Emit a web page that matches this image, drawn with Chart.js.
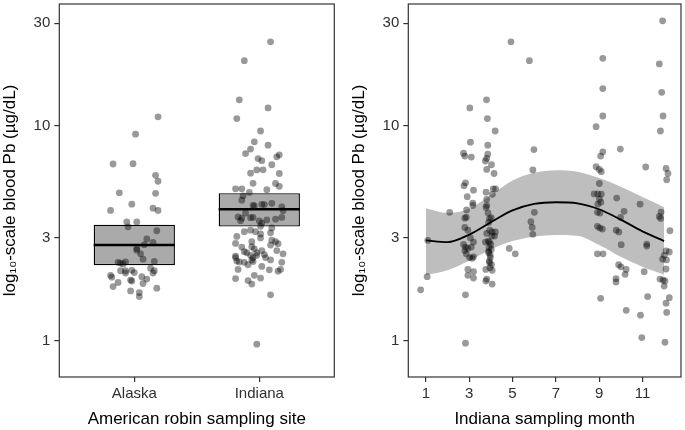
<!DOCTYPE html>
<html><head><meta charset="utf-8">
<script src="https://cdn.jsdelivr.net/npm/chart.js@4"></script>
<style>
html,body{margin:0;padding:0;background:#fff;}
#wrap{position:relative;width:685px;height:430px;overflow:hidden;}
#c1{position:absolute;left:0;top:0;width:340px;height:430px;}
#c2{position:absolute;left:349px;top:0;width:336px;height:430px;}
</style></head><body>
<div id="wrap"><canvas id="c1" width="340" height="430"></canvas><canvas id="c2" width="336" height="430"></canvas></div>
<script>
// ---------- data ----------
const sites = ['Alaska', 'Indiana'];
const yTicks = [1, 3, 10, 30];
const monthTicks = [1, 3, 5, 7, 9, 11];

const alaskaPb = [11.0, 9.13, 6.63, 6.65, 5.87, 5.51, 4.87, 4.84, 4.31, 4.13, 4.03, 4.03, 3.56, 3.56, 3.38, 3.24, 2.97, 2.86, 2.79, 2.68, 2.63, 2.53, 2.39, 2.33, 2.31, 2.29, 2.32, 2.27, 2.11, 2.11, 2.06, 2.12, 2.07, 2.17, 2.11, 2.06, 2.01, 1.97, 1.91, 1.89, 1.98, 1.93, 1.84, 1.86, 1.78, 1.75, 1.70, 1.67, 1.60];
const alaskaJitter = [0.19, 0.01, -0.17, -0.01, 0.17, 0.19, -0.12, 0.17, -0.02, 0.15, 0.19, -0.19, -0.06, 0.02, -0.05, 0.18, 0.10, 0.15, 0.08, 0.02, 0.02, 0.05, 0.07, 0.16, -0.13, -0.11, -0.07, -0.09, -0.11, -0.07, -0.07, -0.02, 0.00, 0.13, 0.16, 0.15, -0.19, -0.18, -0.03, -0.02, 0.06, 0.10, 0.07, -0.13, -0.17, 0.18, -0.03, 0.04, 0.04];

const indianaPb = [24.6, 20.1, 13.2, 12.1, 10.8, 9.45, 8.41, 8.12, 7.78, 7.42, 7.32, 7.16, 7.03, 6.87, 6.58, 6.01, 6.22, 6.23, 5.99, 5.39, 5.38, 5.22, 5.08, 5.08, 5.03, 4.89, 4.71, 4.50, 4.25, 4.23, 4.30, 4.29, 4.35, 4.19, 4.02, 3.92, 3.76, 3.71, 3.61, 3.73, 3.74, 3.60, 3.52, 3.64, 3.67, 3.74, 3.40, 3.34, 3.21, 3.26, 3.21, 3.13, 3.00, 3.17, 3.05, 2.88, 2.93, 2.88, 2.82, 2.83, 2.72, 2.73, 2.67, 2.62, 2.56, 2.78, 2.62, 2.53, 2.59, 2.56, 2.47, 2.43, 2.34, 2.49, 2.43, 2.37, 2.49, 2.51, 2.43, 2.37, 2.31, 2.32, 2.31, 2.25, 2.33, 2.21, 2.14, 2.13, 2.14, 2.10, 2.01, 1.95, 1.94, 1.90, 1.83, 1.63, 0.96];
const indianaJitter = [0.09, -0.12, -0.16, 0.07, -0.18, 0.01, -0.04, 0.07, -0.07, -0.11, 0.16, 0.14, -0.01, 0.02, 0.10, -0.07, -0.02, 0.03, 0.16, -0.05, 0.13, 0.16, -0.19, -0.14, 0.06, -0.08, -0.13, -0.14, -0.05, -0.04, 0.02, 0.04, 0.10, 0.18, 0.19, -0.11, -0.17, -0.14, -0.15, -0.07, -0.05, 0.00, 0.02, 0.06, 0.13, 0.18, 0.01, 0.10, -0.12, -0.07, -0.03, 0.01, 0.01, 0.09, -0.18, -0.06, 0.10, 0.13, 0.15, -0.19, -0.14, -0.06, -0.04, 0.02, -0.02, 0.09, 0.14, 0.19, -0.12, -0.10, -0.19, -0.19, -0.18, -0.07, -0.05, -0.06, -0.02, 0.04, 0.05, 0.09, 0.18, -0.16, -0.12, -0.09, -0.05, 0.02, -0.17, 0.08, 0.17, 0.15, -0.04, 0.01, -0.19, -0.09, -0.06, 0.09, -0.02];

const siteMean = [2.78, 4.08];
const siteLow = [2.24, 3.39];
const siteHigh = [3.46, 4.85];

const sampleMonth = [11.93, 4.93, 5.78, 9.17, 11.78, 9.17, 11.89, 3.80, 3.03, 3.84, 9.17, 11.95, 8.86, 4.20, 11.83, 3.06, 3.86, 5.99, 9.98, 2.74, 2.80, 3.10, 3.86, 3.81, 9.17, 9.07, 3.75, 4.03, 3.81, 4.15, 5.94, 8.86, 9.01, 9.10, 11.15, 12.09, 12.18, 12.12, 2.83, 2.76, 3.20, 2.91, 4.22, 4.11, 3.78, 4.07, 3.81, 9.01, 8.77, 8.94, 9.10, 9.01, 9.08, 8.94, 9.81, 10.89, 3.17, 3.17, 2.88, 2.10, 3.81, 3.78, 6.01, 3.87, 8.92, 9.04, 10.15, 9.99, 11.86, 11.78, 2.87, 2.80, 3.94, 4.02, 5.85, 3.90, 5.91, 5.94, 2.80, 2.94, 3.06, 3.81, 4.06, 4.21, 4.17, 8.92, 9.03, 9.15, 9.79, 9.91, 1.09, 2.74, 2.83, 2.94, 3.10, 3.20, 3.02, 3.14, 2.87, 2.80, 3.20, 3.75, 3.94, 4.85, 5.13, 8.92, 9.18, 10.02, 11.20, 11.20, 11.84, 12.27, 12.09, 12.24, 12.01, 11.93, 12.11, 12.09, 11.81, 11.95, 12.04, 12.00, 12.24, 12.09, 12.12, 11.08, 11.24, 10.25, 10.91, 10.97, 12.04, 9.90, 10.01, 10.25, 10.20, 9.78, 9.78, 9.07, 0.76, 1.06, 2.83, 2.83, 2.94, 3.20, 2.94, 3.20, 3.77, 3.81, 3.77, 4.06, 3.94, 3.95, 4.05, 3.88, 4.00, 3.92, 4.02, 3.90, 3.98, 3.93, 4.03, 3.96, 4.06, 3.90, 3.97];
const monthPb = [30.8, 24.6, 20.1, 20.6, 19.4, 14.9, 14.3, 13.2, 12.1, 10.8, 11.1, 11.1, 9.9, 9.45, 9.45, 8.38, 8.12, 7.74, 7.78, 7.45, 7.22, 7.14, 7.37, 7.04, 7.56, 7.22, 6.85, 6.58, 6.26, 5.99, 6.22, 6.44, 6.26, 6.11, 6.42, 6.32, 5.99, 5.60, 5.42, 5.25, 5.01, 4.67, 5.08, 5.08, 4.90, 4.79, 4.54, 5.38, 4.81, 4.81, 4.80, 4.56, 4.40, 4.31, 4.60, 4.31, 4.36, 4.25, 4.05, 3.95, 4.25, 4.16, 3.95, 3.92, 3.95, 3.92, 3.99, 3.74, 3.96, 3.78, 3.75, 3.71, 3.69, 3.73, 3.57, 3.54, 3.36, 3.12, 3.36, 3.26, 3.00, 3.15, 3.20, 3.20, 3.06, 3.40, 3.34, 3.30, 3.26, 3.20, 2.92, 2.80, 2.72, 2.68, 2.72, 2.45, 2.43, 2.41, 2.53, 2.62, 2.87, 2.87, 2.87, 2.68, 2.53, 2.53, 2.53, 2.79, 2.81, 2.75, 3.70, 3.24, 2.61, 2.58, 2.49, 2.39, 2.37, 2.15, 1.93, 1.91, 1.89, 1.79, 1.58, 1.49, 1.35, 2.09, 1.60, 1.38, 1.31, 1.03, 0.98, 2.25, 2.20, 2.14, 2.03, 1.94, 1.87, 1.57, 1.72, 1.98, 1.63, 0.97, 2.14, 2.09, 2.01, 1.95, 2.14, 1.93, 1.89, 1.83, 2.30, 3.26, 3.06, 2.90, 2.80, 2.70, 2.65, 2.56, 2.43, 2.34, 2.25, 2.18, 2.12, 2.60, 2.50];

const fitMonth = [1, 2, 3, 4, 5, 6, 7, 8, 9, 10, 11, 12];
const fitPb = [2.92, 2.87, 3.11, 3.55, 4.03, 4.32, 4.40, 4.35, 4.08, 3.65, 3.22, 2.90];
const fitUpper = [4.13, 3.92, 4.10, 4.75, 5.55, 6.03, 6.20, 6.10, 5.70, 5.20, 4.65, 4.17];
const fitLower = [2.01, 2.12, 2.35, 2.65, 2.90, 3.04, 3.10, 3.07, 2.78, 2.45, 2.20, 2.02];

// ---------- style ----------
const FONT = "'Liberation Sans', Arial, sans-serif";
const POINT = 'rgba(0,0,0,0.4)';
const BOX_HALF = 0.325;
const Y_TITLE = 'log\u2081\u2080-scale blood Pb (\u00b5g/dL)';

const frame = {
  id: 'frame',
  afterDatasetsDraw(chart) {
    const { ctx, chartArea: a } = chart;
    ctx.save();
    ctx.strokeStyle = '#333';
    ctx.lineWidth = 1.2;
    ctx.strokeRect(a.left, a.top, a.right - a.left, a.bottom - a.top);
    ctx.restore();
  }
};

function yAxis() {
  return {
    type: 'logarithmic', min: 0.675, max: 36.9, offset: false,
    afterBuildTicks: s => { s.ticks = yTicks.map(v => ({ value: v })); },
    afterFit: s => { s.width = 59.3; s.paddingTop = 0; s.paddingBottom = 0; },
    ticks: { callback: v => String(v), font: { family: FONT, size: 15 }, color: '#303030', padding: 4, autoSkip: false, maxRotation: 0 },
    grid: { drawOnChartArea: false, offset: false, tickLength: 5, color: '#333', lineWidth: 1.2 },
    border: { display: false },
    title: { display: true, text: Y_TITLE, font: { family: FONT, size: 17 }, color: '#000', padding: { top: 0, bottom: 0 } }
  };
}
function xAxis(min, max, ticks, label, title) {
  return {
    type: 'linear', min, max, offset: false,
    afterBuildTicks: s => { s.ticks = ticks.map(v => ({ value: v })); },
    afterFit: s => { s.height = 53; s.paddingLeft = 0; s.paddingRight = 0; },
    ticks: { callback: label, font: { family: FONT, size: 15 }, color: '#303030', padding: 3, autoSkip: false, maxRotation: 0 },
    grid: { drawOnChartArea: false, offset: false, tickLength: 5, color: '#333', lineWidth: 1.2 },
    border: { display: false },
    title: { display: true, text: title, font: { family: FONT, size: 17 }, color: '#000', padding: { top: 0, bottom: 0 } }
  };
}
const common = {
  responsive: false, animation: false, events: [],
  plugins: { legend: { display: false }, tooltip: { enabled: false } }
};

// ---------- left panel ----------
const sitePoints = [];
alaskaPb.forEach((v, i) => sitePoints.push({ x: 1 + alaskaJitter[i], y: v }));
indianaPb.forEach((v, i) => sitePoints.push({ x: 2 + indianaJitter[i], y: v }));

const leftSets = [
  {
    type: 'bar', order: 10,
    data: sites.map((s, i) => ({ x: i + 1, y: [siteLow[i], siteHigh[i]] })),
    backgroundColor: 'rgb(170,170,170)', borderColor: '#000', borderWidth: 1.4, borderSkipped: false,
    barPercentage: 0.65, categoryPercentage: 1
  },
  { type: 'scatter', order: 5, data: sitePoints, backgroundColor: POINT, borderWidth: 0, pointRadius: 3.4 }
];
sites.forEach((s, i) => leftSets.push({
  type: 'line', order: 1,
  data: [{ x: i + 1 - BOX_HALF, y: siteMean[i] }, { x: i + 1 + BOX_HALF, y: siteMean[i] }],
  borderColor: '#000', borderWidth: 2.6, pointRadius: 0, fill: false
}));

new Chart(document.getElementById('c1'), {
  type: 'scatter',
  data: { datasets: leftSets },
  options: Object.assign({}, common, {
    layout: { padding: { left: 0, top: 1, right: 5.7, bottom: 0 } },
    scales: {
      x: xAxis(0.4, 2.6, [1, 2], v => sites[Math.round(v) - 1], 'American robin sampling site'),
      y: yAxis()
    }
  }),
  plugins: [frame]
});

// ---------- right panel ----------
const monthPoints = sampleMonth.map((m, i) => ({ x: m, y: monthPb[i] }));
new Chart(document.getElementById('c2'), {
  type: 'scatter',
  data: {
    datasets: [
      { type: 'line', order: 10, data: fitMonth.map((m, i) => ({ x: m, y: fitUpper[i] })), borderWidth: 0, pointRadius: 0, fill: '+1', backgroundColor: 'rgb(190,190,190)', cubicInterpolationMode: 'monotone' },
      { type: 'line', order: 10, data: fitMonth.map((m, i) => ({ x: m, y: fitLower[i] })), borderWidth: 0, pointRadius: 0, fill: false, cubicInterpolationMode: 'monotone' },
      { type: 'scatter', order: 5, data: monthPoints, backgroundColor: POINT, borderWidth: 0, pointRadius: 3.4 },
      { type: 'line', order: 1, data: fitMonth.map((m, i) => ({ x: m, y: fitPb[i] })), borderColor: '#000', borderWidth: 1.8, pointRadius: 0, fill: false, cubicInterpolationMode: 'monotone' }
    ]
  },
  options: Object.assign({}, common, {
    layout: { padding: { left: 0, top: 1, right: 2.3, bottom: 0 } },
    scales: {
      x: xAxis(0.19, 12.78, monthTicks, v => String(v), 'Indiana sampling month'),
      y: yAxis()
    }
  }),
  plugins: [frame]
});
</script>
</body></html>
